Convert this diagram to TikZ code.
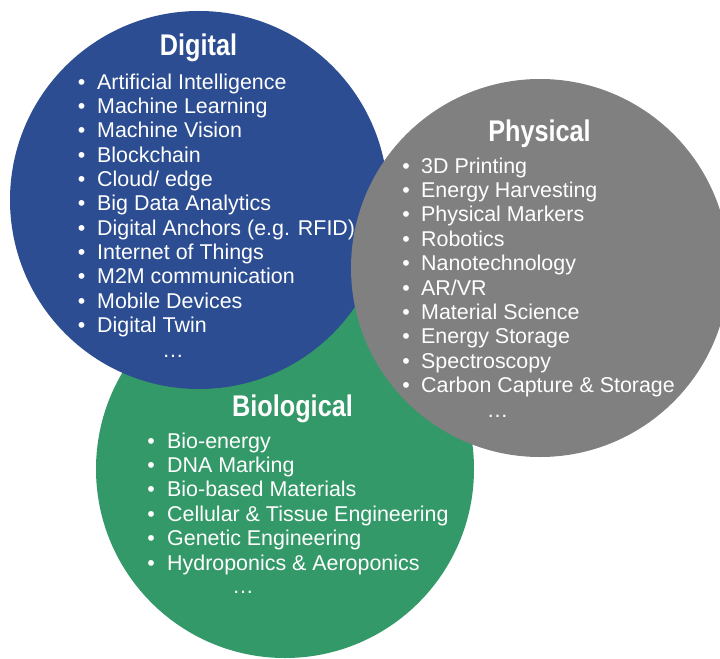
\documentclass[tikz,border=0pt]{standalone}
\usepackage{fontspec}
\setmainfont{Liberation Sans}
\newfontfamily\titlefont[FakeStretch=0.845]{Liberation Sans}
\definecolor{digiblue}{RGB}{44,77,145}
\definecolor{physgray}{RGB}{128,128,128}
\definecolor{biogreen}{RGB}{52,153,104}
\begin{document}
\begin{tikzpicture}[x=1bp,y=-1bp,
  blob/.style={circle,inner sep=0pt,minimum size=378bp,draw=none},
  ttl/.style={anchor=base,inner sep=0pt,text=white,font=\titlefont\bfseries\fontsize{30}{32}\selectfont},
  itm/.style={anchor=base west,inner sep=0pt,text=white,font=\fontsize{21.5}{24}\selectfont},
  bul/.style={anchor=base,inner sep=0pt,text=white,font=\fontsize{21.5}{24}\selectfont}]
\useasboundingbox (0,0) rectangle (720,659);
\node[blob,fill=biogreen] (bio) at (285,469) {};
\node[blob,fill=digiblue] (dig) at (199,200) {};
\node[blob,fill=physgray] (phy) at (540,268) {};
% Digital
\node[ttl] (dt) at (198.5,56) {Digital};
\foreach \t [count=\i] in {Artificial Intelligence,Machine Learning,Machine Vision,Blockchain,Cloud/ edge,Big Data Analytics,{Digital Anchors (e.g. RFID)},Internet of Things,M2M communication,Mobile Devices,Digital Twin}{
  \node[bul] (db\i) at ({81.7},{89.3+24.3*(\i-1)}) {•};
  \node[itm] (d\i) at ({97},{89.3+24.3*(\i-1)}) {\t};
}
\node[bul] (de) at (173,357) {…};
% Physical
\node[ttl] (pt) at (539.5,141.7) {Physical};
\foreach \t [count=\i] in {3D Printing,Energy Harvesting,Physical Markers,Robotics,Nanotechnology,AR/VR,Material Science,Energy Storage,Spectroscopy,Carbon Capture \& Storage}{
  \node[bul] (pb\i) at ({406},{173+24.4*(\i-1)}) {•};
  \node[itm] (p\i) at ({421},{173+24.4*(\i-1)}) {\t};
}
\node[bul] (pe) at (497.5,417) {…};
% Biological
\node[ttl] (bt) at (292.5,416) {Biological};
\foreach \t [count=\i] in {Bio-energy,DNA Marking,Bio-based Materials,Cellular \& Tissue Engineering,Genetic Engineering,Hydroponics \& Aeroponics}{
  \node[bul] (bb\i) at ({151},{448+24.4*(\i-1)}) {•};
  \node[itm] (b\i) at ({167},{448+24.4*(\i-1)}) {\t};
}
\node[bul] (be) at (243,593) {…};
\end{tikzpicture}
\end{document}
